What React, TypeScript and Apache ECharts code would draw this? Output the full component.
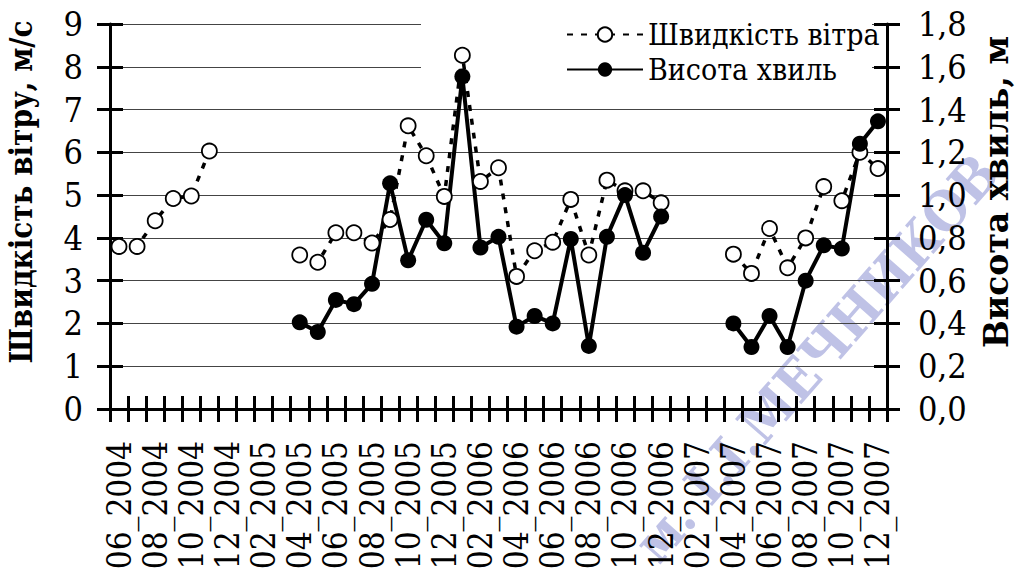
import React, { useEffect, useRef } from "react";
import * as echarts from "echarts";

const categories = [
  "06_2004", "07_2004", "08_2004", "09_2004", "10_2004", "11_2004", "12_2004",
  "01_2005", "02_2005", "03_2005", "04_2005", "05_2005", "06_2005", "07_2005",
  "08_2005", "09_2005", "10_2005", "11_2005", "12_2005",
  "01_2006", "02_2006", "03_2006", "04_2006", "05_2006", "06_2006", "07_2006",
  "08_2006", "09_2006", "10_2006", "11_2006", "12_2006",
  "01_2007", "02_2007", "03_2007", "04_2007", "05_2007", "06_2007", "07_2007",
  "08_2007", "09_2007", "10_2007", "11_2007", "12_2007",
];

const windSpeed: (number | null)[] = [
  3.8, 3.8, 4.4, 4.92, 4.98, 6.03, null,
  null, null, null, 3.6, 3.43, 4.12, 4.12,
  3.88, 4.43, 6.62, 5.92, 4.97,
  8.27, 5.32, 5.64, 3.1, 3.7, 3.9, 4.9,
  3.6, 5.35, 5.1, 5.1, 4.82,
  null, null, null, 3.62, 3.17, 4.22, 3.3,
  4.0, 5.2, 4.87, 6.0, 5.62,
];

const waveHeight: (number | null)[] = [
  null, null, null, null, null, null, null,
  null, null, null, 0.405, 0.36, 0.51, 0.49,
  0.585, 1.055, 0.695, 0.885, 0.775,
  1.555, 0.755, 0.805, 0.385, 0.435, 0.4, 0.795,
  0.295, 0.805, 1.0, 0.73, 0.9,
  null, null, null, 0.4, 0.29, 0.435, 0.29,
  0.6, 0.765, 0.75, 1.24, 1.345,
];

const windName = "Швидкість вітра";
const waveName = "Висота хвиль";
const leftTitle = "Швидкість вітру, м/с";
const rightTitle = "Висота хвиль, м";
const watermark = "м. І.І.МЕЧНИКОВ";

const COND = "DejaVu Serif Condensed";
const SERIF = "DejaVu Serif";

export default function App() {
  const ref = useRef<HTMLDivElement>(null);
  useEffect(() => {
    if (!ref.current) return;
    const chart = echarts.init(ref.current, null, { renderer: "svg" });
    const axisLine = { show: true, onZero: false, lineStyle: { color: "#000", width: 3 } };
    const crossTick = {
      show: true,
      inside: true,
      length: 26,
      lineStyle: { color: "#000", width: 3 },
    };
    chart.setOption({
      animation: false,
      backgroundColor: "#fff",
      grid: { left: 110, right: 137, top: 24, bottom: 170, containLabel: false },
      xAxis: [
        {
          type: "category",
          position: "bottom",
          data: categories,
          boundaryGap: true,
          axisLine,
          axisTick: { show: false },
          axisLabel: { fontFamily: COND, fontSize: 33, color: "#000", interval: 1, rotate: 90, margin: 32 },
          splitLine: { show: false },
        },
        {
          type: "category",
          position: "bottom",
          offset: 13,
          data: categories,
          boundaryGap: true,
          axisLine: { show: false, onZero: false },
          axisTick: { ...crossTick, interval: 0 },
          axisLabel: { show: false },
          splitLine: { show: false },
        },
      ],
      yAxis: [
        {
          type: "value",
          position: "left",
          min: 0,
          max: 9,
          interval: 1,
          axisLine,
          axisTick: { show: false },
          axisLabel: { fontFamily: COND, fontSize: 34, color: "#000", margin: 27 },
          splitLine: { show: true, lineStyle: { color: "#444", width: 1 } },
        },
        {
          type: "value",
          position: "right",
          min: 0,
          max: 1.8,
          interval: 0.2,
          axisLine,
          axisTick: { show: false },
          axisLabel: {
            fontFamily: COND,
            fontSize: 34,
            color: "#000",
            margin: 31,
            formatter: (v: number) => v.toFixed(1).replace(".", ","),
          },
          splitLine: { show: false },
        },
        {
          type: "value",
          position: "left",
          offset: 13,
          min: 0,
          max: 9,
          interval: 1,
          axisLine: { show: false, onZero: false },
          axisTick: crossTick,
          axisLabel: { show: false },
          splitLine: { show: false },
        },
        {
          type: "value",
          position: "right",
          offset: 13,
          min: 0,
          max: 1.8,
          interval: 0.2,
          axisLine: { show: false, onZero: false },
          axisTick: crossTick,
          axisLabel: { show: false },
          splitLine: { show: false },
        },
      ],
      legend: {
        orient: "vertical",
        left: 566,
        top: 17,
        padding: 0,
        itemGap: 0,
        itemWidth: 76,
        itemHeight: 18,
        textStyle: { fontFamily: COND, fontSize: 30, lineHeight: 35, color: "#000" },
        data: [windName, waveName],
      },
      graphic: [
        {
          type: "text",
          z: 0,
          x: 816,
          y: 358,
          rotation: 0.85,
          silent: true,
          style: {
            text: watermark,
            font: `bold 55px ${COND}`,
            fill: "#bfc2e6",
            align: "center",
            verticalAlign: "middle",
          },
        },
        {
          type: "rect",
          z: 1,
          shape: { x: 421, y: 8, width: 451, height: 82 },
          style: { fill: "#fff" },
          silent: true,
        },
        {
          type: "text",
          x: 21,
          y: 192,
          rotation: Math.PI / 2,
          style: {
            text: leftTitle,
            font: `bold 31px ${COND}`,
            fill: "#000",
            align: "center",
            verticalAlign: "middle",
          },
        },
        {
          type: "text",
          x: 996,
          y: 192,
          rotation: Math.PI / 2,
          style: {
            text: rightTitle,
            font: `bold 33px ${SERIF}`,
            fill: "#000",
            align: "center",
            verticalAlign: "middle",
          },
        },
      ],
      series: [
        {
          name: windName,
          type: "line",
          xAxisIndex: 0,
          yAxisIndex: 0,
          data: windSpeed,
          connectNulls: false,
          symbol: "circle",
          symbolSize: 15,
          showAllSymbol: true,
          lineStyle: { color: "#000", width: 3.5, type: [6, 8] },
          itemStyle: { color: "#fff", borderColor: "#000", borderWidth: 1.8 },
          z: 2,
        },
        {
          name: waveName,
          type: "line",
          xAxisIndex: 0,
          yAxisIndex: 1,
          data: waveHeight,
          connectNulls: false,
          symbol: "circle",
          symbolSize: 16,
          showAllSymbol: true,
          lineStyle: { color: "#000", width: 4 },
          itemStyle: { color: "#000", borderColor: "#000", borderWidth: 0 },
          z: 2,
        },
      ],
    });
    return () => chart.dispose();
  }, []);
  return <div ref={ref} style={{ width: 1024, height: 579, position: "absolute", left: 0, top: 0 }} />;
}
